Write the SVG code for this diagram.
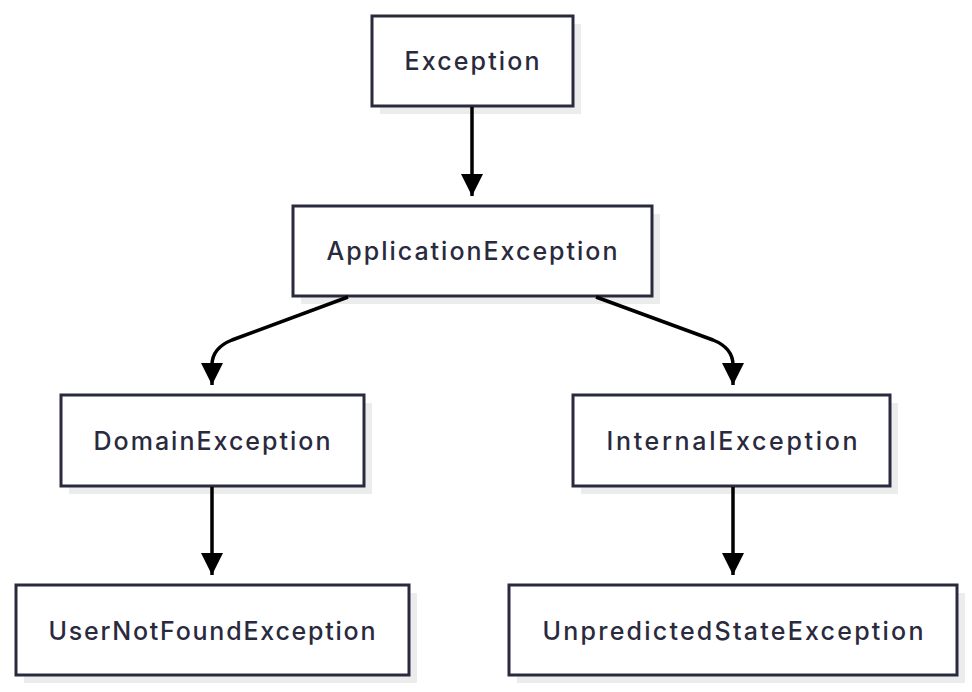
<svg xmlns="http://www.w3.org/2000/svg" width="972" height="692" viewBox="0 0 972 692">
<style>
.sh{fill:#ececec}
.bx{fill:#fff;stroke:#2a2a3e;stroke-width:3}
.t{font-family:Inter,"DejaVu Sans",sans-serif;font-size:25px;font-weight:500;fill:#2a2a3e;text-anchor:middle;dominant-baseline:central}
.c{fill:none;stroke:#000;stroke-width:3.5}
</style>
<defs>
<marker id="ah" viewBox="0 0 24 22" refX="22" refY="11" markerWidth="24" markerHeight="22" markerUnits="userSpaceOnUse" orient="auto"><path d="M0,0L22,11L0,22z" fill="#000"/></marker></defs>
<g id="n1"><rect class="sh" x="380" y="24" width="201" height="90"/><rect class="bx" x="372" y="16" width="201" height="90"/><text class="t" x="472" y="61" textLength="135" lengthAdjust="spacing">Exception</text></g>
<g id="n2"><rect class="sh" x="301" y="214" width="359" height="90"/><rect class="bx" x="293" y="206" width="359" height="90"/><text class="t" x="472" y="251" textLength="291" lengthAdjust="spacing">ApplicationException</text></g>
<g id="n3"><rect class="sh" x="69" y="403" width="303" height="91"/><rect class="bx" x="61" y="395" width="303" height="91"/><text class="t" x="212" y="441" textLength="237" lengthAdjust="spacing">DomainException</text></g>
<g id="n4"><rect class="sh" x="581" y="403" width="317" height="91"/><rect class="bx" x="573" y="395" width="317" height="91"/><text class="t" x="732" y="441" textLength="251" lengthAdjust="spacing">InternalException</text></g>
<g id="n5"><rect class="sh" x="24" y="593" width="393" height="90"/><rect class="bx" x="16" y="585" width="393" height="90"/><text class="t" x="212" y="631" textLength="327" lengthAdjust="spacing">UserNotFoundException</text></g>
<g id="n6"><rect class="sh" x="517" y="593" width="448" height="90"/><rect class="bx" x="509" y="585" width="448" height="90"/><text class="t" x="733" y="631" textLength="381" lengthAdjust="spacing">UnpredictedStateException</text></g>
<g id="connectors">
<path class="c" d="M472,107V196" marker-end="url(#ah)"/>
<path class="c" d="M348,297L232,340Q212,348 212,365V385" marker-end="url(#ah)"/>
<path class="c" d="M596,297L713,340Q733,348 733,365V385" marker-end="url(#ah)"/>
<path class="c" d="M212,487V575" marker-end="url(#ah)"/>
<path class="c" d="M733,487V575" marker-end="url(#ah)"/>
</g>
</svg>
